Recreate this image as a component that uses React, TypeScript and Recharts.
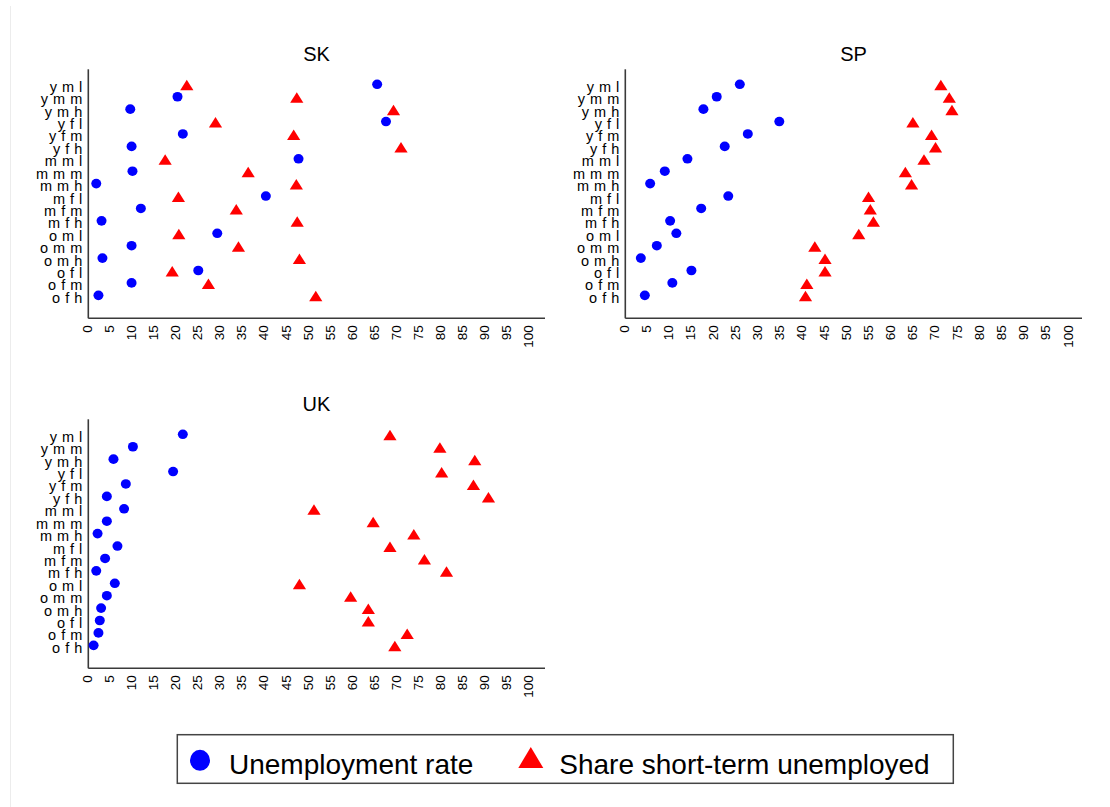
import React from 'react';
import { ScatterChart, Scatter, XAxis, YAxis } from 'recharts';

const categories = [
  'y m l', 'y m m', 'y m h', 'y f l', 'y f m', 'y f h',
  'm m l', 'm m m', 'm m h', 'm f l', 'm f m', 'm f h',
  'o m l', 'o m m', 'o m h', 'o f l', 'o f m', 'o f h',
];

const xTicks = [0, 5, 10, 15, 20, 25, 30, 35, 40, 45, 50, 55, 60, 65, 70, 75, 80, 85, 90, 95, 100];

const skUnemployment = [65.4, 20.2, 9.5, 67.4, 21.4, 9.8, 47.6, 10.0, 1.8, 40.2, 11.9, 3.0, 29.2, 9.8, 3.2, 24.9, 9.8, 2.3];
const skShortTerm = [22.3, 47.2, 69.1, 28.8, 46.5, 70.8, 17.4, 36.2, 47.1, 20.4, 33.5, 47.3, 20.5, 34.0, 47.8, 19.0, 27.2, 51.5];

const spUnemployment = [25.8, 20.6, 17.6, 34.7, 27.6, 22.4, 14.0, 8.9, 5.6, 23.2, 17.1, 10.1, 11.5, 7.1, 3.5, 14.9, 10.6, 4.4];
const spShortTerm = [71.1, 73.0, 73.6, 64.8, 69.0, 69.9, 67.3, 63.1, 64.5, 54.8, 55.2, 55.9, 52.6, 42.7, 45.0, 45.0, 40.9, 40.6];

const ukUnemployment = [21.4, 10.1, 5.7, 19.2, 8.5, 4.2, 8.1, 4.2, 2.1, 6.6, 3.8, 1.8, 6.0, 4.2, 2.9, 2.6, 2.3, 1.2];
const ukShortTerm = [68.3, 79.6, 87.5, 80.0, 87.2, 90.6, 51.1, 64.5, 73.7, 68.3, 76.1, 81.1, 47.8, 59.4, 63.4, 63.4, 72.2, 69.4];

const seriesNames = ['Unemployment rate', 'Share short-term unemployed'];

const FONT = '"Liberation Sans", Arial, Helvetica, sans-serif';
const BLUE = '#0000ff';
const RED = '#ff0000';
const AXIS = '#3a3a3a';

const catIndex = categories.map((_, i) => i);

function toPoints(values: number[]) {
  return values.map((v, i) => ({ x: v, y: i, cat: categories[i] }));
}

const YTick = (props: any) => {
  const { x, y, payload } = props;
  return (
    <text x={x} y={y} dy={7.5} textAnchor="end" fontSize={14.5} fill="#000" fontFamily={FONT} style={{ wordSpacing: '1px' }}>
      {categories[payload.value]}
    </text>
  );
};

const XTick = (props: any) => {
  const { x, y, payload } = props;
  return (
    <text
      transform={`translate(${x},${y}) rotate(-90)`}
      textAnchor="end"
      dy={3.5}
      fontSize={13.5}
      fill="#000"
      fontFamily={FONT}
    >
      {payload.value}
    </text>
  );
};

const CircleShape = (props: any) => {
  const { cx, cy } = props;
  if (cx == null || cy == null) return null;
  return <ellipse cx={cx} cy={cy} rx={5} ry={4.8} fill={BLUE} />;
};

const TriShape = (props: any) => {
  const { cx, cy } = props;
  if (cx == null || cy == null) return null;
  const w = 6.6;
  const top = cy - 4.5;
  const bot = cy + 6;
  return <polygon points={`${cx - w},${bot} ${cx + w},${bot} ${cx},${top}`} fill={RED} />;
};

function Panel(props: { unemp: number[]; short: number[]; left: number; top: number; xMax: number }) {
  const { unemp, short, left, top, xMax } = props;
  return (
    <div style={{ position: 'absolute', left, top, width: 560, height: 360 }}>
      <ScatterChart width={560} height={360} margin={{ top: 69.3, right: 15, bottom: 0, left: 0 }}>
        <XAxis
          type="number"
          dataKey="x"
          domain={[0, xMax]}
          ticks={xTicks}
          interval={0}
          allowDataOverflow
          height={41.7}
          axisLine={{ stroke: AXIS, strokeWidth: 1.6 }}
          tickLine={false}
          tickSize={5}
          tickMargin={2}
          tick={<XTick />}
        />
        <YAxis
          type="number"
          dataKey="y"
          domain={[-1.21, 18.85]}
          reversed
          ticks={catIndex}
          interval={0}
          allowDataOverflow
          width={88.3}
          axisLine={{ stroke: AXIS, strokeWidth: 1.6 }}
          tickLine={false}
          tickSize={4}
          tickMargin={2}
          tick={<YTick />}
        />
        <Scatter name={seriesNames[0]} data={toPoints(unemp)} fill={BLUE} shape={CircleShape} isAnimationActive={false} />
        <Scatter name={seriesNames[1]} data={toPoints(short)} fill={RED} shape={TriShape} isAnimationActive={false} />
      </ScatterChart>
    </div>
  );
}

export default function App() {
  return (
    <div style={{ position: 'absolute', left: 0, top: 0, width: 1110, height: 807, background: '#fff', fontFamily: FONT }}>
      <Panel unemp={skUnemployment} short={skShortTerm} left={0} top={0} xMax={103.4} />
      <Panel unemp={spUnemployment} short={spShortTerm} left={537} top={0} xMax={102.9} />
      <Panel unemp={ukUnemployment} short={ukShortTerm} left={0} top={350} xMax={103.4} />
      <svg
        width={1110}
        height={807}
        style={{ position: 'absolute', left: 0, top: 0, pointerEvents: 'none' }}
      >
        <line x1={10.5} y1={6} x2={10.5} y2={807} stroke="#ececec" strokeWidth={1} />
        <text x={316.5} y={60.7} textAnchor="middle" fontSize={20} fontFamily={FONT} fill="#000">SK</text>
        <text x={853.5} y={60.7} textAnchor="middle" fontSize={20} fontFamily={FONT} fill="#000">SP</text>
        <text x={316.5} y={410.7} textAnchor="middle" fontSize={20} fontFamily={FONT} fill="#000">UK</text>
        <rect x={177.3} y={734.7} width={776} height={48.6} fill="#fff" stroke="#444" strokeWidth={1.5} />
        <ellipse cx={200} cy={760.3} rx={10} ry={10.5} fill={BLUE} />
        <text x={229} y={773.7} fontSize={28} fontFamily={FONT} fill="#000">{seriesNames[0]}</text>
        <polygon points="518.3,768 543.3,768 530.8,747" fill={RED} />
        <text x={559.3} y={773.7} fontSize={28} fontFamily={FONT} fill="#000">{seriesNames[1]}</text>
      </svg>
    </div>
  );
}
